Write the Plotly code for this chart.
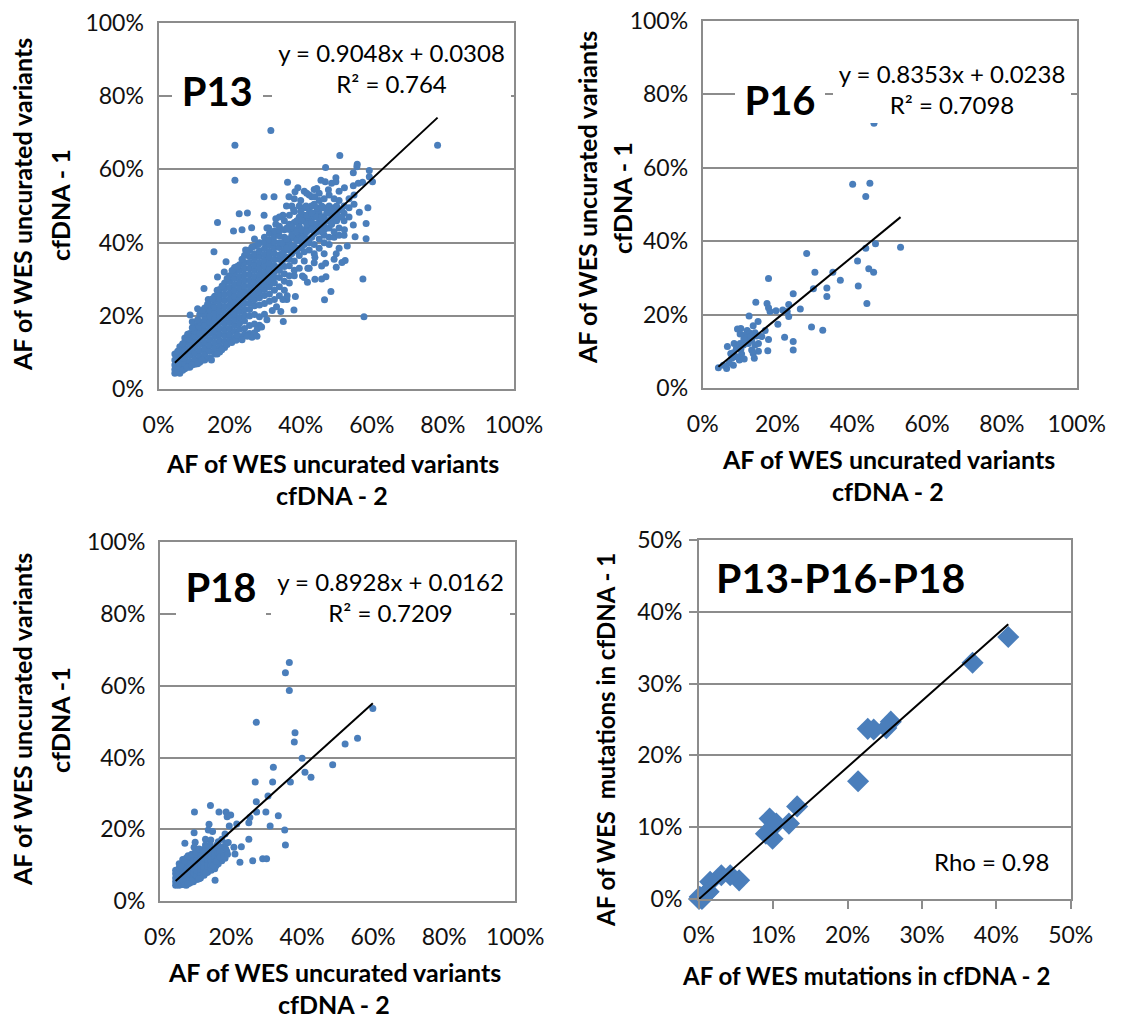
import plotly.graph_objects as go

W, H = 1125, 1018
BLUE = "#4a7ebb"
GRID = "#8c8c8c"
FONT = "Lato"

# ---- P13: dense band, one x value with its y values (percent)
p13_band_x = [4.6, 6.0, 7.4, 8.8, 10.2, 11.6, 13.0, 14.4, 15.8, 17.2, 18.6, 20.0, 21.4, 22.8, 24.2, 25.6, 27.0, 28.4,
              29.8, 31.2, 32.6, 34.0, 35.4, 36.8, 38.2, 39.6, 41.0, 42.4, 43.8, 45.2, 46.6, 48.0, 49.4, 50.8, 52.2, 53.6, 55.0]
p13_band_y = [
    [4.4, 5.4, 6.6, 8.0, 9.6],
    [4.4, 5.8, 7.2, 8.6, 10.2, 11.6],
    [5.6, 7.0, 8.4, 9.8, 11.2, 12.8, 14.0],
    [6.0, 7.6, 9.2, 10.6, 12.2, 13.8, 15.2],
    [6.8, 8.2, 9.8, 11.4, 13.0, 14.6, 16.0, 17.4],
    [7.4, 9.0, 10.6, 12.2, 13.8, 15.4, 17.0, 18.4, 20.4],
    [8.0, 9.6, 11.2, 12.8, 14.4, 16.0, 17.6, 19.2, 20.8, 22.2],
    [8.6, 10.4, 12.0, 13.6, 15.2, 16.8, 18.4, 20.0, 21.6, 23.0],
    [9.6, 11.2, 12.8, 14.4, 16.0, 17.6, 19.2, 20.8, 22.4, 24.0, 25.4],
    [10.2, 11.8, 13.4, 15.0, 16.6, 18.2, 19.8, 21.4, 23.0, 24.6, 26.0, 27.2],
    [11.4, 13.0, 14.6, 16.2, 17.8, 19.4, 21.0, 22.6, 24.2, 25.8, 27.4, 29.0],
    [13.6, 15.0, 16.6, 18.2, 19.8, 21.4, 23.0, 24.6, 26.2, 27.8, 29.4, 31.0],
    [14.0, 15.8, 17.4, 19.0, 20.6, 22.2, 23.8, 25.4, 27.0, 28.6, 30.2, 31.8, 33.2],
    [14.4, 16.4, 18.0, 19.6, 21.2, 22.8, 24.4, 26.0, 27.6, 29.2, 30.8, 32.4, 34.0],
    [15.0, 16.6, 18.6, 20.2, 21.8, 23.4, 25.0, 26.6, 28.2, 29.8, 31.4, 33.0, 34.6, 36.5],
    [15.2, 17.4, 20.0, 21.8, 23.4, 25.0, 26.6, 28.2, 29.8, 31.4, 33.0, 34.6, 36.2, 38.0],
    [15.4, 17.8, 20.4, 22.8, 24.4, 26.0, 27.6, 29.2, 30.8, 32.4, 34.0, 35.6, 37.0, 39.0],
    [17.5, 19.8, 23.0, 25.0, 26.6, 28.2, 29.8, 31.4, 33.0, 34.6, 36.2, 37.8, 40.0],
    [20.5, 23.4, 25.6, 27.2, 28.8, 30.4, 32.0, 33.6, 35.2, 36.8, 38.4, 40.0, 41.5],
    [24.0, 26.0, 28.0, 29.6, 31.2, 32.8, 34.4, 36.0, 37.6, 39.2, 40.8, 42.5],
    [24.5, 27.0, 29.0, 30.6, 32.2, 33.8, 35.4, 37.0, 38.6, 40.2, 41.8, 43.2],
    [25.5, 28.0, 30.5, 32.4, 33.2, 35.5, 36.6, 38.7, 40.0, 41.9, 43.4, 44.5],
    [27.0, 29.5, 31.5, 33.5, 35.5, 37.8, 39.4, 41.5, 43.5, 46.0],
    [29.0, 31.0, 33.7, 35.5, 38.0, 39.8, 41.0, 43.6, 45.0, 47.5],
    [31.0, 32.5, 35.0, 37.7, 39.1, 41.2, 43.6, 45.5, 48.5, 52.0],
    [33.0, 36.5, 38.5, 40.6, 42.0, 44.5, 47.0, 50.0],
    [30.5, 35.0, 37.5, 39.5, 42.0, 43.5, 46.0, 47.5, 49.5, 54.0],
    [33.0, 38.0, 40.0, 41.0, 44.0, 46.5, 49.0, 53.0],
    [34.5, 37.0, 39.5, 42.5, 44.5, 47.0, 48.0, 50.5, 54.5],
    [38.5, 41.0, 43.5, 45.5, 48.0, 51.5, 53.5],
    [37.0, 40.0, 42.0, 43.5, 45.5, 47.0, 49.5, 52.0],
    [39.5, 41.5, 44.0, 46.0, 48.5, 50.0, 53.0],
    [41.5, 43.0, 46.0, 47.5, 49.5, 52.0],
    [38.5, 42.0, 44.0, 47.0, 49.0, 51.5, 54.0],
    [42.0, 46.0, 48.0, 50.0],
    [47.0, 49.5, 52.0],
    [50.5, 53.0],
]
# P13: loose points around the band
p13_loose = [
    (31.6, 70.6), (21.5, 66.6), (78.5, 66.6), (21.5, 57.0), (51.0, 63.8), (55.9, 61.4), (55.8, 60.7), (47.0, 60.5),
    (59.3, 59.7), (54.8, 59.1), (59.3, 58.0), (60.2, 56.6), (36.3, 56.5), (49.9, 57.7), (45.7, 57.0), (46.9, 56.6),
    (48.7, 56.2), (49.9, 56.6), (54.8, 55.5), (56.2, 56.2), (57.4, 56.5), (52.3, 55.0), (47.8, 54.4), (44.5, 54.8),
    (39.2, 55.0), (38.4, 53.9), (29.7, 52.5), (32.5, 52.5), (36.7, 52.5), (41.7, 53.5), (43.1, 52.5), (22.7, 47.9),
    (25.0, 48.1), (29.7, 47.5), (16.6, 45.5), (21.1, 43.2), (23.5, 43.5), (26.2, 44.1), (15.6, 37.5), (19.0, 34.8),
    (16.6, 30.6), (12.8, 27.5), (58.9, 49.5), (56.5, 48.3), (54.8, 44.8), (58.4, 45.2), (55.3, 41.6), (58.4, 41.1),
    (53.1, 39.1), (52.3, 43.5), (57.5, 30.1), (57.8, 19.8), (48.5, 26.7), (46.7, 24.4), (52.5, 35.1), (51.6, 34.6),
    (50.0, 33.3), (49.4, 35.5), (47.0, 34.4), (45.9, 33.6), (47.1, 30.7), (45.9, 30.1), (44.0, 30.0), (41.9, 29.2),
    (40.5, 30.9), (38.1, 21.6), (35.1, 18.5), (34.4, 21.2), (38.5, 25.3), (36.1, 24.5), (28.0, 39.5), (31.0, 44.0),
    (33.0, 46.5), (37.5, 50.0), (40.0, 51.5), (43.0, 50.0), (46.0, 49.5), (50.0, 37.0), (44.0, 36.0), (42.0, 33.0),
    (8.9, 20.3), (11.0, 22.0), (14.0, 24.5), (18.5, 32.0), (24.5, 38.0), (27.0, 41.0), (30.5, 44.0), (35.0, 47.5),
    (5.3, 4.6), (6.8, 5.2), (8.1, 6.0), (9.4, 6.6), (11.0, 7.0), (12.2, 7.9), (14.9, 8.0), (17.8, 10.8), (16.5, 9.6),
    (19.3, 12.2), (20.6, 12.8), (21.8, 13.4), (22.1, 14.8), (23.5, 13.5), (25.0, 14.5), (26.3, 14.2), (27.7, 14.5),
    (27.8, 16.5), (29.0, 17.0), (30.5, 19.0), (32.0, 21.5), (33.2, 22.5), (35.0, 24.5), (36.2, 25.5),
    (5.4, 10.4), (6.8, 12.4), (8.2, 15.0), (9.5, 16.8), (9.5, 18.4), (11.0, 19.0), (12.3, 21.5), (13.8, 23.2),
    (15.2, 24.7), (16.5, 27.0), (17.9, 28.2), (19.3, 30.2), (20.7, 32.4), (22.1, 33.5), (23.5, 35.5), (24.9, 37.4),
    (26.3, 38.8),
    (34.7, 34.0), (34.7, 37.0), (34.7, 40.0), (36.1, 36.0), (36.1, 38.5), (36.1, 41.0), (36.1, 44.0), (37.5, 37.0),
    (37.5, 39.0), (37.5, 42.0), (37.5, 44.5), (38.9, 38.0), (38.9, 40.5), (38.9, 43.0), (38.9, 46.0), (40.3, 39.0),
    (40.3, 41.0), (40.3, 43.5), (40.3, 46.0), (41.7, 41.0), (41.7, 43.0), (41.7, 45.0), (41.7, 47.5), (43.1, 41.5),
    (43.1, 43.5), (43.1, 45.5), (43.1, 48.0), (44.5, 43.0), (44.5, 45.0), (44.5, 47.0), (44.5, 49.5), (45.9, 43.0),
    (45.9, 45.0), (45.9, 47.0), (45.9, 50.0), (47.3, 44.0), (47.3, 46.0), (47.3, 48.0), (48.7, 45.0), (48.7, 47.0),
    (48.7, 49.0), (50.1, 46.0), (50.1, 48.0), (50.1, 50.0), (51.5, 47.0), (51.5, 49.0), (36.0, 50.0), (38.0, 49.0),
    (40.0, 48.5), (34.0, 47.0), (33.0, 45.0), (41.5, 50.0), (44.0, 52.5),
]

# ---- P16
p16_points = [
    (45.8, 72.1), (40.1, 55.5), (44.7, 55.8), (43.6, 52.2), (27.8, 36.7), (46.2, 39.3), (43.6, 38.1), (52.9, 38.4),
    (41.4, 34.6), (30.0, 31.6), (34.8, 31.6), (44.4, 32.5), (45.7, 31.6), (17.6, 29.9), (36.8, 29.4), (41.6, 27.8),
    (33.2, 27.3), (29.6, 27.1), (33.2, 25.0), (24.2, 25.7), (43.9, 23.1), (14.2, 23.4), (17.2, 23.1), (17.6, 21.9),
    (23.0, 22.8), (26.1, 21.6), (18.0, 20.9), (19.6, 21.1), (21.4, 21.3), (22.6, 20.9), (12.4, 19.7), (23.0, 19.5),
    (14.8, 18.2), (20.1, 17.4), (13.5, 17.0), (29.1, 16.7), (32.1, 15.8), (9.3, 16.1), (10.2, 16.3), (16.7, 15.7),
    (10.0, 14.8), (11.9, 15.7), (11.3, 14.5), (12.7, 15.0), (14.0, 15.1), (14.4, 14.2), (15.8, 14.1), (17.6, 13.3),
    (21.9, 13.9), (24.2, 12.7), (24.2, 10.4), (17.4, 10.2), (8.4, 12.2), (6.6, 11.4), (10.0, 12.2), (10.9, 11.8),
    (13.1, 13.1), (14.9, 12.2), (14.0, 11.8), (13.1, 10.4), (14.9, 10.1), (13.5, 9.5), (13.8, 8.2), (7.5, 9.5),
    (8.2, 9.7), (10.4, 9.3), (9.8, 7.7), (11.1, 8.0), (9.1, 8.6), (8.2, 6.3), (6.4, 5.4), (7.1, 6.8), (4.2, 5.6),
    (5.5, 6.3), (12.0, 13.2), (13.0, 14.2), (11.0, 13.4), (12.2, 12.2), (9.0, 10.8), (10.2, 10.6), (7.8, 8.2),
]

# ---- P18: dense band plus loose points
p18_band_x = [4.4, 5.4, 6.4, 7.4, 8.4, 9.4, 10.4, 11.4, 12.4, 13.4, 14.4, 15.4, 16.4, 17.4, 18.5]
p18_band_y = [
    [4.4, 5.4, 6.4, 7.6, 8.6],
    [4.4, 5.6, 6.8, 8.0, 9.2, 10.4],
    [4.6, 5.8, 7.0, 8.2, 9.4, 10.6, 11.6],
    [4.4, 6.0, 7.2, 8.4, 9.6, 10.8, 12.0],
    [5.0, 6.2, 7.4, 8.6, 9.8, 11.0, 12.2],
    [5.4, 6.6, 7.8, 9.0, 10.2, 11.4, 12.6],
    [6.0, 7.2, 8.4, 9.6, 10.8, 12.0, 13.0],
    [6.4, 7.6, 8.8, 10.0, 11.2, 12.4, 13.4],
    [7.2, 8.4, 9.6, 10.8, 12.0, 13.2],
    [8.0, 9.2, 10.4, 11.6, 12.8, 14.0],
    [8.6, 10.0, 11.2, 12.4, 13.4],
    [9.0, 11.0, 12.4, 13.6, 14.6],
    [10.4, 12.0, 13.4, 14.8, 16.5],
    [11.2, 12.8, 15.0],
    [14.5, 16.0],
]
p18_loose = [
    (36.4, 66.5), (35.3, 63.6), (36.4, 58.7), (59.9, 53.7), (27.1, 49.8), (38.0, 46.9), (37.8, 44.3), (55.6, 45.4),
    (52.1, 43.8), (40.0, 39.8), (48.6, 38.0), (31.9, 37.3), (40.8, 35.9), (42.5, 34.5), (26.8, 33.2), (31.7, 33.2),
    (36.7, 33.2), (30.4, 29.3), (27.1, 27.7), (14.2, 26.6), (9.7, 24.8), (16.6, 24.8), (18.6, 24.8), (27.2, 24.8),
    (29.8, 24.8), (33.3, 23.8), (19.9, 24.0), (18.9, 23.5), (25.3, 23.3), (25.0, 21.8), (13.8, 21.4), (19.5, 20.9),
    (21.6, 21.5), (31.0, 20.9), (13.6, 19.8), (14.8, 19.4), (35.1, 19.8), (9.6, 19.0), (18.3, 18.7), (25.0, 17.2),
    (7.0, 16.1), (9.9, 16.4), (12.8, 17.2), (14.3, 17.0), (17.4, 17.2), (19.2, 16.3), (35.3, 15.6), (22.9, 15.1),
    (20.8, 15.0), (9.6, 15.0), (12.8, 15.6), (14.1, 15.6), (16.0, 15.6), (18.8, 13.8), (16.9, 13.8), (21.1, 13.1),
    (18.3, 11.9), (22.5, 10.8), (26.1, 11.2), (28.9, 11.8), (30.0, 11.8), (15.5, 5.8), (15.8, 9.9),
    (4.9, 4.5), (5.9, 9.9), (6.9, 11.2), (7.9, 12.6), (8.9, 13.0), (10.0, 13.7), (11.0, 14.5), (12.0, 14.3),
    (13.0, 15.0), (14.9, 9.8), (15.9, 11.0), (12.9, 7.8), (11.0, 6.2), (8.9, 5.6), (6.9, 4.5), (7.9, 4.8),
    (16.9, 12.3), (17.9, 12.5), (19.0, 13.0),
]

# ---- P13-P16-P18 mutations
mut_x = [41.6, 36.8, 21.4, 22.7, 23.5, 25.2, 25.8, 13.2, 12.1, 9.5, 10.4, 9.0, 9.9, 5.4, 4.2, 3.0, 1.5, 1.3, 0.1, 0.4, 0.0, 0.6, 1.0]
mut_y = [36.5, 32.9, 16.4, 23.7, 23.6, 23.8, 24.7, 12.9, 10.5, 11.2, 10.5, 9.1, 8.4, 2.6, 3.3, 3.3, 2.4, 1.0, 0.3, 0.0, 0.0, 0.4, 0.8]

# ---- trend lines (slope, intercept in percent)
p13_fit = (0.9048, 3.08)
p16_fit = (0.8353, 2.38)
p18_fit = (0.8928, 1.62)
mut_fit = (0.92, 0.0)

y_title_uncurated = "AF of WES uncurated variants"
tick_vals_100 = [0, 20, 40, 60, 80, 100]
tick_text_100 = ["0%", "20%", "40%", "60%", "80%", "100%"]
tick_vals_50 = [0, 10, 20, 30, 40, 50]
tick_text_50 = ["0%", "10%", "20%", "30%", "40%", "50%"]


def flatten(band_x, band_y, loose):
    xs, ys = [], []
    for x, col in zip(band_x, band_y):
        for y in col:
            xs.append(x)
            ys.append(y)
    for x, y in loose:
        xs.append(x)
        ys.append(y)
    return xs, ys


p13_x, p13_y = flatten(p13_band_x, p13_band_y, p13_loose)
p16_x, p16_y = flatten([], [], p16_points)
p18_x, p18_y = flatten(p18_band_x, p18_band_y, p18_loose)

panels = [
    dict(box=(158.5, 514, 22.7, 389.3), xs=p13_x, ys=p13_y, fit=p13_fit, vals=tick_vals_100, txt=tick_text_100, sym="circle", size=7, outer=False),
    dict(box=(702.7, 1076.7, 20.7, 388.3), xs=p16_x, ys=p16_y, fit=p16_fit, vals=tick_vals_100, txt=tick_text_100, sym="circle", size=7, outer=False),
    dict(box=(160, 515.3, 542.3, 901), xs=p18_x, ys=p18_y, fit=p18_fit, vals=tick_vals_100, txt=tick_text_100, sym="circle", size=7, outer=False),
    dict(box=(699, 1070.7, 540, 899), xs=mut_x, ys=mut_y, fit=mut_fit, vals=tick_vals_50, txt=tick_text_50, sym="diamond", size=17, outer=True),
]

fig = go.Figure()
for i, p in enumerate(panels, start=1):
    l, r, t, b = p["box"]
    sfx = "" if i == 1 else str(i)
    axis_common = dict(
        range=[0, p["vals"][-1]], tickmode="array", tickvals=p["vals"], ticktext=p["txt"], showline=True, mirror=True,
        linecolor=GRID, linewidth=2, zeroline=False, tickfont=dict(family=FONT, size=23, color="#111111"),
        ticks="outside" if p["outer"] else "", ticklen=8 if p["outer"] else 0, tickcolor=GRID, tickwidth=2,
    )
    fig.update_layout(**{
        "xaxis" + sfx: dict(domain=[l / W, r / W], anchor="y" + sfx, showgrid=False,
                            ticklabelstandoff=6 if p["outer"] else 14, **axis_common),
        "yaxis" + sfx: dict(domain=[1 - b / H, 1 - t / H], anchor="x" + sfx, showgrid=True, gridcolor=GRID, gridwidth=2,
                            ticklabelstandoff=2 if p["outer"] else 8, **axis_common),
    })
    xa, ya = "x" + sfx, "y" + sfx
    fig.add_trace(go.Scatter(x=p["xs"], y=p["ys"], mode="markers", xaxis=xa, yaxis=ya, cliponaxis=False, showlegend=False,
                             marker=dict(symbol=p["sym"], size=p["size"], color=BLUE, line=dict(width=0))))
    m, c = p["fit"]
    x0, x1 = min(p["xs"]), max(p["xs"])
    fig.add_trace(go.Scatter(x=[x0, x1], y=[m * x0 + c, m * x1 + c], mode="lines", xaxis=xa, yaxis=ya, showlegend=False,
                             line=dict(color="black", width=2)))


def text(px, py, s, size, bold=False, angle=0, box=None):
    kw = dict(xref="paper", yref="paper", x=px / W, y=1 - py / H, xanchor="center", yanchor="middle", showarrow=False,
              text=("<b>%s</b>" % s) if bold else s, textangle=angle, borderpad=0, borderwidth=0,
              font=dict(family=FONT, size=size, color="black"), align="center")
    if box:
        kw.update(width=box[0], height=box[1], bgcolor="white")
    fig.add_annotation(**kw)


AX = 25
# panel titles and white boxes that interrupt the 80% gridline
text(217.5, 91, "P13", 40, True, box=(90.5, 62))
text(780, 100, "P16", 40, True, box=(90, 60))
text(221, 587, "P18", 40, True, box=(90, 64))
text(840, 577, "P13-P16-P18", 41, True)
# equations
text(391.5, 68, "y = 0.9048x + 0.0308<br>R² = 0.764", 24, box=(239, 66))
text(952, 89, "y = 0.8353x + 0.0238<br>R² = 0.7098", 24, box=(238, 68))
text(390.5, 597, "y = 0.8928x + 0.0162<br>R² = 0.7209", 24, box=(239, 64))
text(992, 861, "Rho = 0.98", 24)
# axis titles
text(332, 463, y_title_uncurated, AX, True)
text(332, 495, "cfDNA - 2", AX, True)
text(888, 459, y_title_uncurated, AX, True)
text(888, 491, "cfDNA - 2", AX, True)
text(334, 972, y_title_uncurated, AX, True)
text(334, 1004, "cfDNA - 2", AX, True)
text(866, 975, "AF of WES mutations in cfDNA - 2", 24, True)
text(22, 205, y_title_uncurated, AX, True, angle=-90)
text(60, 205, "cfDNA - 1", AX, True, angle=-90)
text(587, 198, y_title_uncurated, AX, True, angle=-90)
text(622, 198, "cfDNA - 1", AX, True, angle=-90)
text(22, 720, y_title_uncurated, AX, True, angle=-90)
text(60, 720, "cfDNA -1", AX, True, angle=-90)
text(605, 740, "AF of WES  mutations in cfDNA - 1", 24, True, angle=-90)

fig.update_layout(width=W, height=H, margin=dict(l=0, r=0, t=0, b=0, autoexpand=False), paper_bgcolor="white",
                  plot_bgcolor="white", showlegend=False, hovermode=False)
fig.write_html("out.html", config=dict(displayModeBar=False), post_script="document.body.style.margin='0';")
